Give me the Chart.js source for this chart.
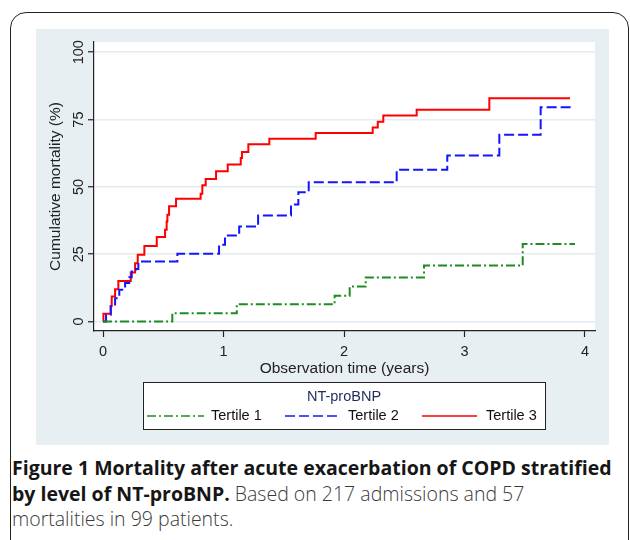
<!DOCTYPE html>
<html>
<head>
<meta charset="utf-8">
<script src="https://cdn.jsdelivr.net/npm/chart.js@4.4.0/dist/chart.umd.min.js"></script>
<style>
  body { margin:0; background:#fff; width:630px; height:540px; overflow:hidden; position:relative; }
  #frame { position:absolute; left:10px; top:12px; width:619px; height:570px; border:1.5px solid #222; border-radius:16px; box-sizing:border-box; }
  #panel { position:absolute; left:36px; top:29px; width:573px; height:416px; background:#e8eff2; }
  #caption { position:absolute; left:12px; top:455px; font-family:"Open Sans", sans-serif; font-size:19.5px; line-height:25.5px; font-weight:300; color:#3a3a3a; white-space:nowrap; }
  #caption b { color:#161616; font-weight:700; }
</style>
</head>
<body>
<div id="frame"></div>
<div id="panel"><canvas id="km" width="573" height="416"></canvas></div>
<div id="caption"><b>Figure 1 Mortality after acute exacerbation of COPD stratified<br>by level of NT-proBNP.</b> Based on 217 admissions and 57<br>mortalities in 99 patients.</div>
<script>
// time (years) and cumulative mortality (%) at each step
const t1Time = [0, 0.575, 1.11, 1.922, 2.047, 2.18, 2.664, 3.483, 3.917];
const t1Mort = [0, 3.1, 6.4, 9.6, 13.0, 16.4, 20.8, 28.8, 28.8];

const t2Time = [0, 0.025, 0.064, 0.10, 0.135, 0.183, 0.218, 0.238, 0.274, 0.293, 0.617, 0.963, 1.012, 1.13, 1.287, 1.56, 1.621, 1.707, 2.437, 2.857, 3.289, 3.632, 3.889];
const t2Mort = [0, 2.5, 5.8, 8.7, 11.8, 14.3, 16.5, 18.6, 19.5, 22.3, 25.2, 28.5, 32.0, 35.3, 39.4, 43.5, 48.0, 51.7, 56.4, 61.7, 69.4, 79.6, 79.6];

const t3Time = [0, 0.003, 0.064, 0.072, 0.10, 0.127, 0.23, 0.266, 0.288, 0.343, 0.446, 0.515, 0.528, 0.534, 0.548, 0.606, 0.81, 0.824, 0.852, 0.938, 1.035, 1.143, 1.153, 1.206, 1.38, 1.765, 2.238, 2.28, 2.326, 2.603, 3.206, 3.876];
const t3Mort = [0, 2.9, 5.8, 9.3, 12.0, 15.1, 18.2, 21.7, 24.8, 28.1, 31.4, 34.1, 37.2, 39.7, 42.8, 45.6, 47.5, 50.6, 52.9, 55.8, 58.3, 60.7, 63.0, 65.8, 67.9, 70.0, 72.1, 74.2, 76.5, 78.6, 82.9, 82.9];

const seriesNames = ['Tertile 1', 'Tertile 2', 'Tertile 3'];
const legendTitle = 'NT-proBNP';
const xTicks = [0, 1, 2, 3, 4];
const yTicks = [0, 25, 50, 75, 100];

const FONT = '"Liberation Sans", Arial, sans-serif';
const pts = (xs, ys) => xs.map((x, i) => ({ x: x, y: ys[i] }));

// white plot region
const plotBg = {
    id: 'plotBg',
    beforeDraw(chart) {
        const a = chart.chartArea, c = chart.ctx;
        c.save();
        c.fillStyle = '#fff';
        c.fillRect(a.left, a.top, a.right - a.left, a.bottom - a.top);
        c.restore();
    }
};

// boxed legend under the plot, Stata style
const boxLegend = {
    id: 'boxLegend',
    afterDraw(chart) {
        const c = chart.ctx;
        const box = { left: 107, top: 353, right: 509, bottom: 400 };
        const lineX = [[111, 168], [249, 305], [386, 441]];
        const textX = [175, 312, 450];
        const rowY = 387;
        c.save();
        c.fillStyle = '#fff';
        c.fillRect(box.left, box.top, box.right - box.left, box.bottom - box.top);
        c.strokeStyle = '#222';
        c.lineWidth = 1;
        c.strokeRect(box.left + 0.5, box.top + 0.5, box.right - box.left, box.bottom - box.top);
        c.font = '14.5px ' + FONT;
        c.textBaseline = 'middle';
        c.textAlign = 'center';
        c.fillStyle = '#1e2c5c';
        c.fillText(legendTitle, (box.left + box.right) / 2, 368);
        c.textAlign = 'left';
        chart.data.datasets.forEach((ds, i) => {
            c.strokeStyle = ds.borderColor;
            c.lineWidth = 1.6;
            c.setLineDash(ds.borderDash || []);
            c.beginPath();
            c.moveTo(lineX[i][0], rowY);
            c.lineTo(lineX[i][1], rowY);
            c.stroke();
            c.setLineDash([]);
            c.fillStyle = '#111';
            c.fillText(ds.label, textX[i], rowY);
        });
        c.restore();
    }
};

const ctK = document.getElementById('km').getContext('2d');
const km = new Chart(ctK, {
    type: 'line',
    data: {
        datasets: [{
            label: seriesNames[0],
            data: pts(t1Time, t1Mort),
            borderColor: '#1e8c1e',
            borderDash: [9, 3, 2, 3],
            borderWidth: 2,
            stepped: 'before',
            pointRadius: 0
        }, {
            label: seriesNames[1],
            data: pts(t2Time, t2Mort),
            borderColor: '#1414ff',
            borderDash: [10, 4],
            borderWidth: 2,
            stepped: 'before',
            pointRadius: 0
        }, {
            label: seriesNames[2],
            data: pts(t3Time, t3Mort),
            borderColor: '#ff0000',
            borderWidth: 2,
            stepped: 'before',
            pointRadius: 0
        }]
    },
    options: {
        responsive: false,
        animation: false,
        layout: { padding: { left: 10, top: 13, right: 14, bottom: 67 } },
        plugins: { legend: { display: false }, tooltip: { enabled: false } },
        scales: {
            x: {
                type: 'linear',
                min: -0.075,
                max: 4.083,
                afterBuildTicks: s => { s.ticks = xTicks.map(v => ({ value: v })); },
                afterFit: s => { s.height = 47; },
                grid: { drawOnChartArea: false, tickLength: 6, tickColor: '#222', tickWidth: 1.2 },
                border: { color: '#222', width: 1.2 },
                ticks: { color: '#222', font: { size: 14.5, family: FONT }, padding: 6, maxRotation: 0 },
                title: { display: true, text: 'Observation time (years)', color: '#222', font: { size: 15.5, family: FONT }, padding: 0 }
            },
            y: {
                min: -3.5,
                max: 103.8,
                afterBuildTicks: s => { s.ticks = yTicks.map(v => ({ value: v })); },
                afterFit: s => { s.width = 48; },
                grid: { color: '#e4ecef', lineWidth: 1.5, tickLength: 6, tickColor: '#222', tickWidth: 1.2 },
                border: { color: '#222', width: 1.2 },
                ticks: { color: '#222', font: { size: 14.5, family: FONT }, padding: -3, minRotation: 90, maxRotation: 90, crossAlign: 'center' },
                title: { display: true, text: 'Cumulative mortality (%)', color: '#222', font: { size: 15.5, family: FONT }, padding: 0 }
            }
        }
    },
    plugins: [plotBg, boxLegend]
});
</script>
</body>
</html>
